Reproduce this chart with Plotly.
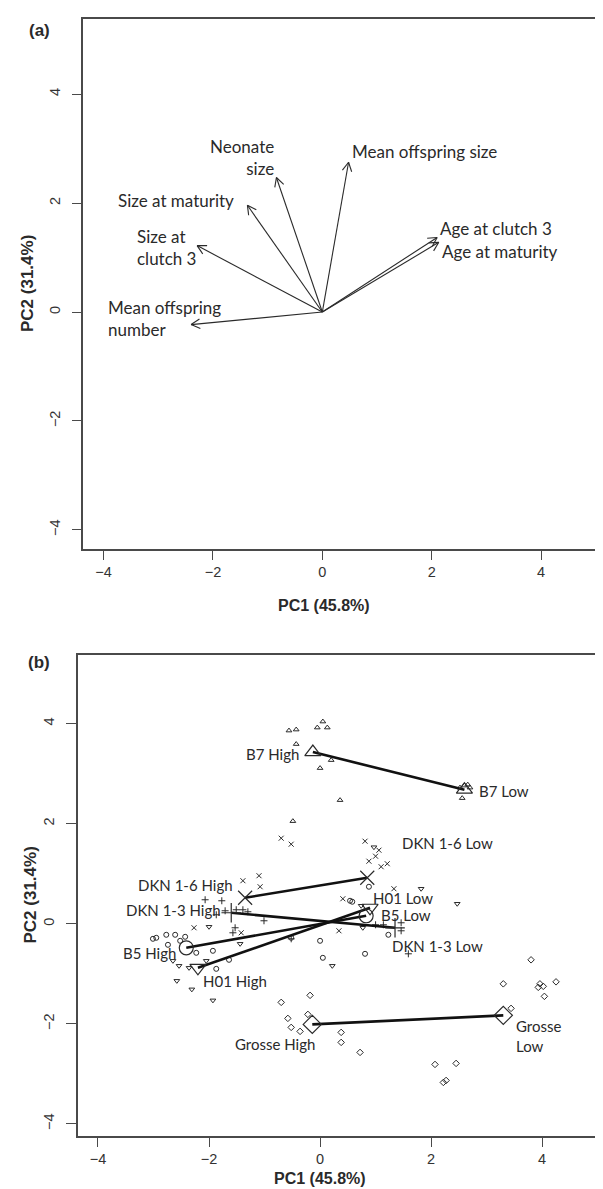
import math
import plotly.graph_objects as go

W, H = 603, 1189

# ---------------- Panel (a): loadings ----------------
load_names = ["Mean offspring number", "Size at clutch 3", "Size at maturity", "Neonate size",
              "Mean offspring size", "Age at clutch 3", "Age at maturity"]
load_pc1 = [-2.40, -2.29, -1.37, -0.84, 0.48, 2.10, 2.13]
load_pc2 = [-0.23, 1.22, 1.96, 2.47, 2.75, 1.37, 1.28]

lab_a_text = ["Mean offspring<br>number", "Size at<br>clutch 3", "Size at maturity", "Neonate<br>size",
              "Mean offspring size", "Age at clutch 3", "Age at maturity"]
lab_a_x = [-3.95, -3.42, -3.77, -0.85, 0.50, 2.11, 2.15]
lab_a_y = [-0.12, 1.18, 2.05, 2.83, 2.94, 1.54, 1.11]
lab_a_anchor = ["left", "left", "left", "right", "left", "left", "left"]

# ---------------- Panel (b): scores ----------------
groups = ["B7", "DKN 1-6", "DKN 1-3", "B5", "H01", "Grosse"]
symbols = ["triangle-up-open", "x-thin-open", "cross-thin-open", "circle-open", "triangle-down-open", "diamond-open"]

pts_x = {
    "B7": [-0.56, -0.43, -0.05, 0.05, 0.13, -0.43, 0.20, 0.00, 0.36, -0.49, 2.52, 2.60, 2.66, 2.70, 2.56],
    "DKN 1-6": [-0.70, -0.52, 0.81, 1.06, 1.00, 0.88, 1.10, 1.21, 1.33, 0.41, 0.34, -1.39, -1.10, -1.08, -2.27, -1.42],
    "DKN 1-3": [-2.07, -1.77, -1.71, -1.51, -1.39, -1.30, -1.87, -1.01, -1.53, -1.57, -0.52, 1.00, 1.14, 1.46, 1.46, 1.59],
    "B5": [-3.01, -2.95, -2.77, -2.61, -2.52, -2.43, -2.74, -2.23, -1.93, -1.87, -1.64, -0.52, 0.00, 0.05, 0.81, 1.23, 0.88, 0.54, 0.58],
    "H01": [-2.65, -2.54, -2.36, -2.05, -2.58, -2.31, -1.93, -2.00, -1.44, 0.22, 0.97, 1.82, 0.74, 2.47, 0.77],
    "Grosse": [-0.70, -0.18, -0.58, -0.22, -0.52, -0.36, 0.38, 0.38, 0.72, 2.07, 2.45, 2.22, 2.27, 3.80, 3.30, 3.93, 3.96, 4.02, 4.04, 4.25, 3.44],
}
pts_y = {
    "B7": [3.86, 3.88, 3.92, 4.04, 3.92, 3.59, 3.27, 3.11, 2.47, 2.05, 2.72, 2.76, 2.78, 2.72, 2.51],
    "DKN 1-6": [1.71, 1.59, 1.65, 1.47, 1.35, 1.25, 1.14, 1.20, 0.70, 0.50, -0.14, 0.86, 0.96, 0.74, -0.08, -0.18],
    "DKN 1-3": [0.48, 0.46, 0.26, 0.28, 0.28, 0.24, 0.18, 0.06, -0.08, -0.18, -0.30, -0.02, -0.02, 0.02, -0.14, -0.60],
    "B5": [-0.30, -0.28, -0.22, -0.22, -0.34, -0.26, -0.42, -0.58, -0.54, -0.90, -0.72, -0.28, -0.34, -0.68, -0.60, -0.22, 0.74, 0.46, 0.44],
    "H01": [-0.74, -0.84, -0.88, -0.74, -1.14, -1.31, -1.53, -0.06, -0.40, -0.84, 1.53, 0.70, 0.36, 0.40, -0.08],
    "Grosse": [-1.57, -1.43, -1.89, -1.81, -2.07, -2.15, -2.17, -2.37, -2.57, -2.81, -2.79, -3.17, -3.13, -0.72, -1.20, -1.27, -1.20, -1.25, -1.45, -1.16, -1.69],
}
high_x = [-0.13, -1.35, -1.60, -2.41, -2.20, -0.14]
high_y = [3.43, 0.52, 0.22, -0.48, -0.88, -2.01]
low_x = [2.60, 0.85, 1.35, 0.83, 0.90, 3.30]
low_y = [2.68, 0.92, -0.08, 0.16, 0.32, -1.83]

lab_b_text = ["B7 High", "B7 Low", "DKN 1-6 High", "DKN 1-6 Low", "DKN 1-3 High", "DKN 1-3 Low",
              "B5 High", "B5 Low", "H01 High", "H01 Low", "Grosse High", "Grosse<br>Low"]
lab_b_x = [-0.34, 2.83, -1.53, 1.44, -1.75, 1.26, -2.56, 1.06, -2.14, 0.92, -0.05, 3.50]
lab_b_y = [3.39, 2.65, 0.78, 1.61, 0.28, -0.44, -0.58, 0.18, -1.14, 0.52, -2.41, -2.24]
lab_b_anchor = ["right", "left", "right", "left", "right", "left", "right", "left", "left", "left", "right", "left"]

ticks = [-4, -2, 0, 2, 4]

# ---------------- geometry (pixels) ----------------
A_left, A_top, A_bot = 75.4, 11, 541
B_left, B_top, B_bot = 70, 647, 1128
xr_a = [-4.37, 5.28]
yr_a = [-4.35, 5.38]
xr_b = [-4.36, 5.24]
yr_b = [-4.24, 5.37]

INK = "#2a2a2a"
AXC = "#4a4a4a"
LAB_FONT = "Lato, 'Open Sans', sans-serif"
AX_FONT = "'Liberation Sans', Arial, sans-serif"

fig = go.Figure()

# arrows for panel a (shaft + open V head computed from the vector in pixel space)
sx_a = (W - A_left) / (xr_a[1] - xr_a[0])
sy_a = (A_bot - A_top) / (yr_a[1] - yr_a[0])
hx, hy = [], []
for x1, y1 in zip(load_pc1, load_pc2):
    hx += [0, x1, None]
    hy += [0, y1, None]
    px, py = x1 * sx_a, y1 * sy_a
    L = math.hypot(px, py)
    ux, uy = px / L, py / L
    for ang in (math.radians(28), -math.radians(28)):
        rx = ux * math.cos(ang) - uy * math.sin(ang)
        ry = ux * math.sin(ang) + uy * math.cos(ang)
        hx += [x1, x1 - 10 * rx / sx_a, None]
        hy += [y1, y1 - 10 * ry / sy_a, None]
fig.add_trace(go.Scatter(x=hx, y=hy, mode="lines", line=dict(color=INK, width=1.1),
                         xaxis="x", yaxis="y", showlegend=False, hoverinfo="skip"))

# panel b: small points
for g, s in zip(groups, symbols):
    fig.add_trace(go.Scatter(x=pts_x[g], y=pts_y[g], mode="markers", xaxis="x2", yaxis="y2",
                             marker=dict(symbol=s, size=5, color=INK, line=dict(color=INK, width=1)),
                             showlegend=False, name=g))
# panel b: High -> Low lines
for i, g in enumerate(groups):
    fig.add_trace(go.Scatter(x=[high_x[i], low_x[i]], y=[high_y[i], low_y[i]], mode="lines",
                             xaxis="x2", yaxis="y2", line=dict(color="#111", width=2.6),
                             showlegend=False, hoverinfo="skip"))
# panel b: group mean markers
for i, (g, s) in enumerate(zip(groups, symbols)):
    fig.add_trace(go.Scatter(x=[high_x[i], low_x[i]], y=[high_y[i], low_y[i]], mode="markers",
                             xaxis="x2", yaxis="y2",
                             marker=dict(symbol=s, size=14, color=INK, line=dict(color=INK, width=1.2)),
                             showlegend=False, name=g + " mean"))

ann = []
for t, x, y, a in zip(lab_a_text, lab_a_x, lab_a_y, lab_a_anchor):
    ann.append(dict(x=x, y=y, xref="x", yref="y", text=t, showarrow=False, xanchor=a, yanchor="middle",
                    align=a, font=dict(family=LAB_FONT, size=17, color=INK)))
for t, x, y, a in zip(lab_b_text, lab_b_x, lab_b_y, lab_b_anchor):
    ann.append(dict(x=x, y=y, xref="x2", yref="y2", text=t, showarrow=False, xanchor=a, yanchor="middle",
                    align=a, font=dict(family=LAB_FONT, size=15, color=INK)))

def P(xpx, ypx):
    return xpx / W, 1 - ypx / H

tfont = dict(family=AX_FONT, size=17, color=INK)
for lab, (xp, yp) in [("<b>(a)</b>", P(31, 22)), ("<b>(b)</b>", P(31, 654))]:
    ann.append(dict(x=xp, y=yp, xref="paper", yref="paper", text=lab, showarrow=False,
                    xanchor="center", yanchor="middle", font=tfont))
for (xp, yp) in [P(316, 597), P(312, 1170)]:
    ann.append(dict(x=xp, y=yp, xref="paper", yref="paper", text="<b>PC1 (45.8%)</b>", showarrow=False,
                    xanchor="center", yanchor="middle", font=dict(family=AX_FONT, size=16, color=INK)))
for (xp, yp) in [P(19, (A_top + A_bot) / 2), P(22, (B_top + B_bot) / 2)]:
    ann.append(dict(x=xp, y=yp, xref="paper", yref="paper", text="<b>PC2 (31.4%)</b>", showarrow=False,
                    textangle=-90, xanchor="center", yanchor="middle", font=tfont))

def xa(domain_left, rng, anchor):
    return dict(domain=[domain_left / W, 1], range=rng, anchor=anchor, tickvals=ticks,
                showline=True, mirror=True, linecolor=AXC, linewidth=1.6,
                ticks="outside", ticklen=9, tickwidth=1.4, tickcolor=AXC,
                showgrid=False, zeroline=False,
                tickfont=dict(family=AX_FONT, size=14.5, color="#333"))

def ya(top, bot, rng, anchor):
    return dict(domain=[1 - bot / H, 1 - top / H], range=rng, anchor=anchor, tickvals=ticks,
                showline=True, mirror=False, linecolor=AXC, linewidth=1.6,
                ticks="outside", ticklen=10, tickwidth=1.4, tickcolor=AXC, tickangle=-90,
                ticklabelstandoff=6,
                showgrid=False, zeroline=False,
                tickfont=dict(family=AX_FONT, size=14.5, color="#333"))

fig.update_layout(
    width=W, height=H, margin=dict(l=0, r=0, t=0, b=0),
    paper_bgcolor="white", plot_bgcolor="white",
    xaxis=xa(A_left, xr_a, "y"), yaxis=ya(A_top, A_bot, yr_a, "x"),
    xaxis2=xa(B_left, xr_b, "y2"), yaxis2=ya(B_top, B_bot, yr_b, "x2"),
    annotations=ann, showlegend=False,
)

fig.write_html("out.html")
